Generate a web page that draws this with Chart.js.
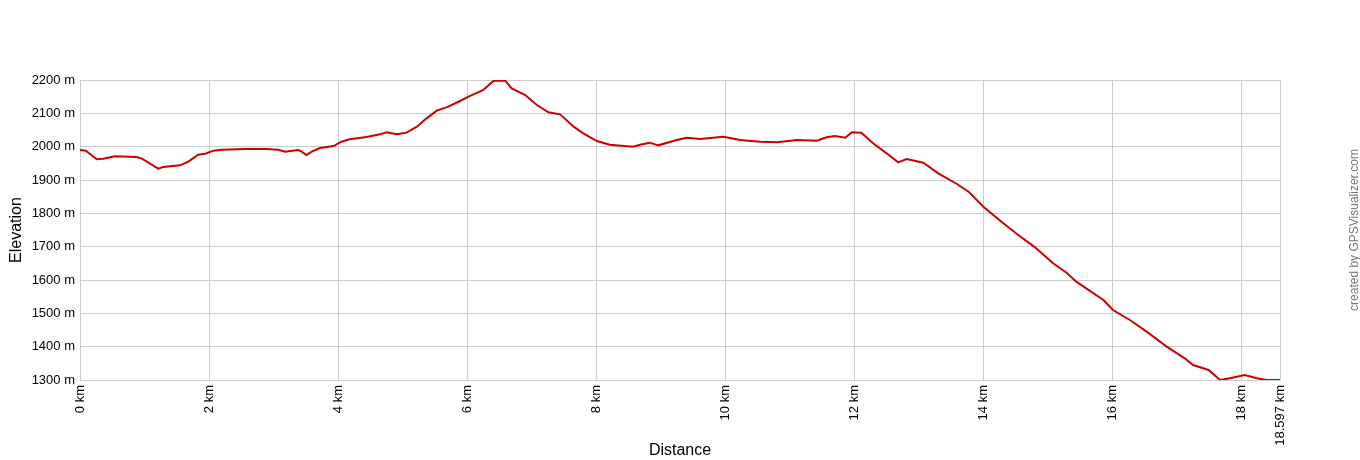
<!DOCTYPE html>
<html>
<head>
<meta charset="utf-8">
<script src="https://cdn.jsdelivr.net/npm/chart.js@4/dist/chart.umd.min.js"></script>
<style>
  html, body { margin: 0; padding: 0; background: #fff; }
  #wrap { width: 1360px; height: 460px; }
</style>
</head>
<body>
<div id="wrap"><canvas id="profileChart" width="1360" height="460"></canvas></div>
<script>
// distance along the track (km) and elevation (m)
const distKm = [
  0, 0.09, 0.26, 0.36, 0.54, 0.88, 0.96, 1.21, 1.29, 1.55, 1.68, 1.83, 1.94,
  2.07, 2.2, 2.56, 2.89, 3.07, 3.18, 3.38, 3.43, 3.51, 3.59, 3.72, 3.93,
  4.05, 4.18, 4.44, 4.65, 4.75, 4.91, 5.06, 5.22, 5.37, 5.53, 5.68, 5.89,
  6.02, 6.25, 6.41, 6.59, 6.69, 6.9, 7.08, 7.26, 7.44, 7.65, 7.8, 8.01,
  8.21, 8.57, 8.68, 8.83, 8.96, 9.25, 9.4, 9.61, 9.97, 10.23, 10.54, 10.8,
  11.11, 11.42, 11.57, 11.7, 11.86, 11.96, 12.11, 12.29, 12.5, 12.68, 12.81,
  13.07, 13.3, 13.59, 13.77, 14.0, 14.28, 14.52, 14.8, 15.08, 15.29, 15.44,
  15.86, 16.01, 16.27, 16.53, 16.84, 17.12, 17.25, 17.49, 17.67, 17.82,
  18.05, 18.24, 18.39, 18.55, 18.597
];
const elevM = [
  1990, 1988, 1962, 1964, 1971, 1969, 1964, 1934, 1939, 1944, 1955, 1976, 1979,
  1988, 1991, 1993, 1993, 1991, 1985, 1990, 1986, 1975, 1985, 1996, 2002,
  2015, 2022, 2029, 2037, 2043, 2037, 2042, 2060, 2085, 2108, 2118, 2137,
  2150, 2170, 2198, 2198, 2175, 2155, 2125, 2103, 2097, 2060, 2040, 2017,
  2006, 2000, 2006, 2012, 2004, 2020, 2027, 2023, 2030, 2020, 2015, 2013,
  2020, 2018, 2028, 2032, 2027, 2043, 2042, 2010, 1980, 1953, 1963,
  1952, 1920, 1888, 1865, 1820, 1775, 1738, 1698, 1650, 1622, 1595,
  1540, 1510, 1480, 1445, 1400, 1365, 1345, 1330, 1300, 1305,
  1315, 1305, 1300, 1300, 1300
];
const totalKm = 18.597;
const elevMin = 1300;
const elevMax = 2200;

const points = distKm.map((d, i) => ({ x: d, y: elevM[i] }));

const fontFace = '"Liberation Sans", Arial, sans-serif';

// watermark on the right edge
const creditPlugin = {
  id: 'credit',
  afterDraw(chart) {
    const c = chart.ctx;
    c.save();
    c.translate(1355, 230);
    c.rotate(-Math.PI / 2);
    c.font = '12px ' + fontFace;
    c.fillStyle = '#777';
    c.textAlign = 'center';
    c.textBaseline = 'middle';
    c.fillText('created by GPSVisualizer.com', 0, 0);
    c.restore();
  }
};

const ctx = document.getElementById('profileChart').getContext('2d');

const profileChart = new Chart(ctx, {
  type: 'line',
  data: {
    datasets: [{
      label: 'Elevation',
      data: points,
      borderColor: '#cc0000',
      borderWidth: 2,
      pointRadius: 0,
      tension: 0,
      fill: false
    }]
  },
  options: {
    responsive: false,
    animation: false,
    layout: { padding: { top: 80, right: 80, left: 7, bottom: 0 } },
    plugins: {
      legend: { display: false },
      tooltip: { enabled: false }
    },
    scales: {
      x: {
        type: 'linear',
        min: 0,
        max: totalKm,
        afterBuildTicks(scale) {
          const t = [];
          for (let v = 0; v <= 18; v += 2) t.push({ value: v });
          t.push({ value: totalKm });
          scale.ticks = t;
        },
        afterFit(scale) { scale.height = 80; },
        grid: { color: '#cccccc', drawTicks: false },
        border: { color: '#cccccc' },
        ticks: {
          minRotation: 90,
          maxRotation: 90,
          padding: 5,
          color: '#000',
          font: { family: fontFace, size: 13 },
          callback: (v) => v + ' km'
        },
        title: {
          display: true,
          text: 'Distance',
          color: '#000',
          font: { family: fontFace, size: 16 },
          padding: { top: 0, bottom: 0 }
        }
      },
      y: {
        min: elevMin,
        max: elevMax,
        afterFit(scale) { scale.width = 73; },
        grid: { color: '#cccccc', drawTicks: false },
        border: { color: '#cccccc' },
        ticks: {
          stepSize: 100,
          padding: 5,
          color: '#000',
          font: { family: fontFace, size: 13 },
          callback: (v) => v + ' m'
        },
        title: {
          display: true,
          text: 'Elevation',
          color: '#000',
          font: { family: fontFace, size: 16 },
          padding: { top: 0, bottom: 0 }
        }
      }
    }
  },
  plugins: [creditPlugin]
});
</script>
</body>
</html>
